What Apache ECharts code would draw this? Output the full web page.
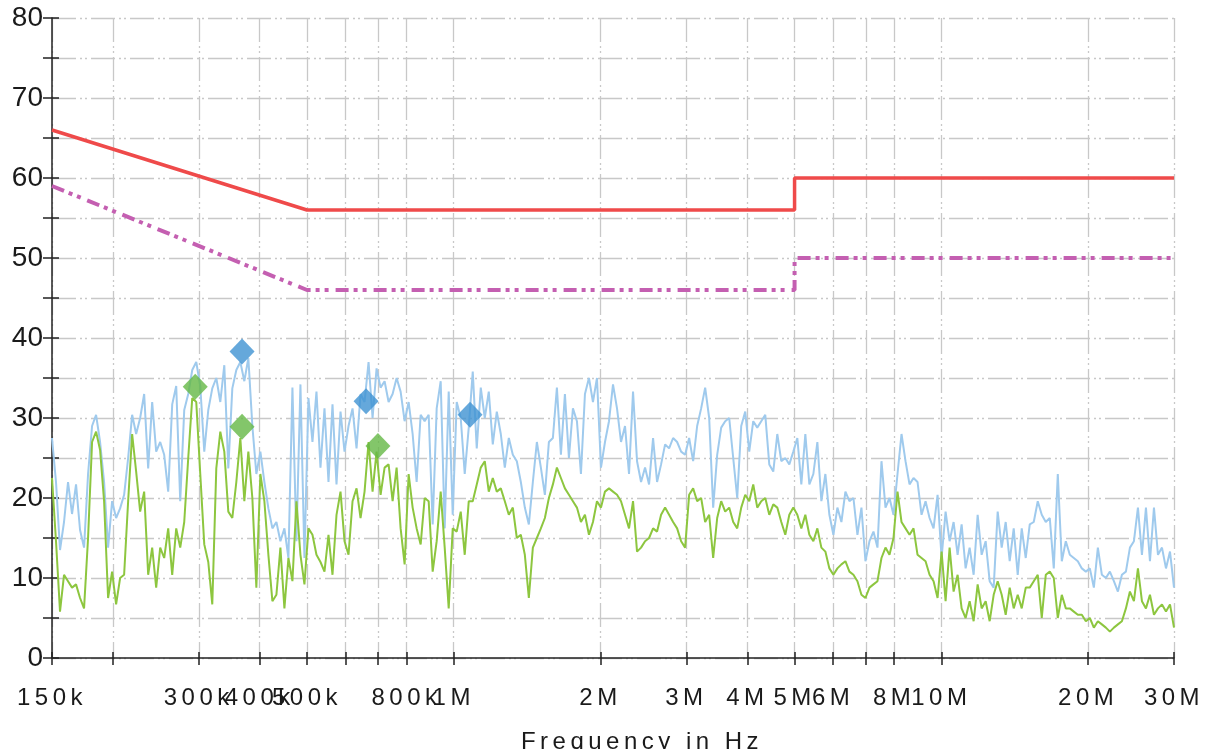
<!DOCTYPE html>
<html>
<head>
<meta charset="utf-8">
<script src="https://cdn.jsdelivr.net/npm/echarts@6/dist/echarts.min.js"></script>
<style>
  html, body { margin: 0; padding: 0; background: #fff; }
  #chart { width: 1214px; height: 749px; }
</style>
</head>
<body>
<div id="chart"></div>
<script>
// receiver sweep: 281 log-spaced points, 150 kHz .. 30 MHz
const sweepStartMHz = 0.15;
const sweepStopMHz = 30;
const sweepPoints = 281;

// peak detector trace (dBuV)
const peakTrace = [
  27.5, 22, 13.5, 17, 22, 18, 21.7, 16, 13.8, 23, 29, 30.4, 27, 22, 13.8, 19.6, 17.5, 18.7, 20.4, 25,
  30.4, 28, 30, 33, 23.7, 32, 25.8, 27, 25.4, 20.8, 31.7, 34, 19.6, 31, 33, 36, 37, 34, 25.8, 31,
  33.7, 35, 32, 36.6, 23.7, 33.7, 36,
  37, 34.6, 37.5, 29, 23, 25.8, 22, 18.7, 16.2, 17, 14.6, 16.2, 12.5, 33.8, 14.6, 34.2, 12.5, 32.5, 27, 33.3,
  23.8, 31.2, 22, 31.7, 21.7, 30.8, 25.8, 29, 31.2, 26.2, 33, 32, 37, 30, 36.2, 33.8, 34.6, 32, 33, 35,
  33.3, 29.6, 32, 28, 22, 30.4, 29.6,
  30.4, 16.7, 31.2, 34.6, 16.2, 33.3, 17.9, 32, 30, 23, 28.8, 35.8, 26.2, 33.8, 30, 33.3, 26.7, 30.8, 28, 23.8,
  27.5, 25.4, 24.6, 22, 18.8, 16.7, 22, 27, 23.8, 20.4, 27, 27.5, 33.8, 25.4, 33, 25, 31.2, 29.6, 23, 33,
  35, 32, 35, 23.8, 27, 29.6, 34.2,
  31.2, 27, 29, 23, 33.3, 24.6, 22, 23.8, 21.7, 27.5, 22, 24.2, 26.7, 26.2, 27.5, 27, 25.8, 25.4, 27.5, 24.6,
  29, 31.2, 33.8, 30, 18.8, 25.4, 28.8, 29.6, 30, 25, 20, 29, 30.8, 25.8, 29.6, 28.8, 29.6, 30.4, 24.2, 23.3,
  28, 24.6, 25, 24.2, 25.8, 27.5, 21.7,
  28, 21.7, 23, 27, 19.6, 23, 17.9, 15.4, 18.8, 17, 20.8, 19.6, 20, 15.4, 18.8, 12.1, 14.6, 15.8, 13.8, 24.6,
  18.8, 20, 17.9, 23, 28, 24.6, 21.7, 22.5, 22, 17.9, 19.6, 17.5, 16.2, 20.4, 12.5, 18.3, 14.6, 17, 12.9, 16.7,
  11.2, 13.8, 10.4, 17.9, 12.9, 14.6, 9.6,
  8.8, 18.3, 13.8, 17, 12.1, 16.2, 10.4, 16.2, 12.5, 16.7, 17, 19.6, 17.9, 17, 17.5, 11.2, 23, 12.1, 14.6, 12.9,
  12.5, 12.1, 11.2, 10.8, 11.2, 8.8, 13.8, 10.4, 10, 10.8, 9.6, 8.3, 10.4, 10.8, 13.8, 14.6, 18.8, 12.9, 18.8, 12.1,
  18.8, 12.9, 13.8, 11.2, 13.3, 8.8
];

// average detector trace (dBuV)
const avgTrace = [
  22.5, 14.6, 5.8, 10.4, 9.6, 8.8, 9.2, 7.5, 6.2, 15, 27, 28.3, 26, 19.6, 7.5, 10.8, 6.7, 10, 10.4, 19.6,
  28, 23.3, 18.3, 20.8, 10.4, 13.8, 8.8, 13.8, 12.5, 16.2, 10.4, 16.2, 13.8, 17, 25, 32.5, 32, 23, 14.2, 12,
  6.7, 23.7, 28.3, 25.8, 18.3, 17.5, 22,
  27.5, 19.6, 25.8, 20, 8.8, 23, 19.6, 12.9, 7.1, 7.9, 13.8, 6.2, 12.5, 9.6, 19.6, 12.9, 9.2, 16.2, 15.4, 12.9,
  12, 10.8, 15.4, 10.4, 17.9, 20.8, 14.6, 12.9, 19.6, 21.2, 17.5, 20.8, 27, 20.8, 25.8, 20.4, 23.8, 24.2, 19.6, 23.8,
  16.2, 11.7, 23, 18.8, 16.2, 14.2, 20,
  19.6, 10.8, 14.6, 20.8, 13.8, 6.2, 16.2, 15.8, 18.3, 12.9, 19.6, 19.6, 21.7, 23.8, 24.6, 20.8, 22.5, 20.8, 21.2, 19.6,
  17.9, 18.8, 15, 15.4, 12.9, 7.5, 13.8, 15, 16.2, 17.5, 20, 21.7, 23.8, 22.5, 21.2, 20.4, 19.6, 18.8, 17, 17.9,
  15.4, 17, 19.6, 18.8, 20.8, 21.2, 20.8,
  20.4, 19.6, 17.9, 16.2, 19.6, 13.3, 13.8, 14.6, 15, 16.2, 15.8, 17.9, 18.8, 17.9, 17, 16.2, 14.6, 13.8, 20.4, 21.2,
  19.6, 20, 17, 17.9, 12.5, 17.5, 19.6, 18.3, 18.8, 17, 16.2, 18.8, 20.4, 19.6, 21.7, 18.8, 19.6, 20, 17.9, 19.2,
  18.8, 17, 15.4, 17.9, 18.8, 17.9, 16.2,
  17.9, 15.4, 14.6, 16.2, 13.8, 13.3, 11.2, 10.4, 11.2, 11.7, 12.1, 10.8, 10.4, 9.6, 7.9, 7.5, 8.8, 9.2, 9.6, 12.5,
  13.8, 12.9, 15, 20.8, 17, 16.2, 15.4, 16.2, 12.9, 12.5, 12.1, 10.4, 9.6, 7.5, 13.3, 7.1, 13.8, 8.3, 10.4, 6.2,
  5, 7.1, 4.6, 9.2, 6.2, 7.1, 4.6,
  7.9, 9.6, 7.9, 5.4, 8.8, 6.2, 7.9, 6.2, 8.8, 8.8, 9.6, 10.4, 5, 10.4, 10.8, 10, 5, 7.9, 6.2, 6.2,
  5.8, 5.4, 5.4, 4.6, 5, 3.8, 4.6, 4.2, 3.8, 3.3, 3.8, 4.2, 4.6, 6.2, 8.3, 7.1, 11.2, 7.1, 6.2, 7.9,
  5.4, 6.2, 6.7, 5.8, 6.7, 3.8
];

// limit lines
const qpLimitFreq = [0.15, 0.5, 5, 5, 30];
const qpLimitLevel = [66, 56, 56, 60, 60];
const avLimitFreq = [0.15, 0.5, 5, 5, 30];
const avLimitLevel = [59, 46, 46, 50, 50];

// final measurement markers
const qpMarkFreq = [0.368, 0.661, 1.08];
const qpMarkLevel = [38.3, 32.1, 30.4];
const avMarkFreq = [0.295, 0.368, 0.699];
const avMarkLevel = [33.9, 28.9, 26.5];

// axis ticks (MHz)
const tickFreq = [0.15, 0.2, 0.3, 0.4, 0.5, 0.6, 0.7, 0.8, 1, 2, 3, 4, 5, 6, 7, 8, 10, 20, 30];
const labelFreq = [0.15, 0.3, 0.4, 0.5, 0.8, 1, 2, 3, 4, 5, 6, 8, 10, 20, 30];

// the frequency axis text of the original is widely spaced; canvas supports letterSpacing
const ctxProto = CanvasRenderingContext2D.prototype;
const rawFillText = ctxProto.fillText;
const rawMeasureText = ctxProto.measureText;
const spacingFor = (ctx) => (/\b24px/.test(ctx.font) ? "4.5px" : "0px");
ctxProto.fillText = function (...args) {
  this.letterSpacing = spacingFor(this);
  return rawFillText.apply(this, args);
};
ctxProto.measureText = function (...args) {
  this.letterSpacing = spacingFor(this);
  return rawMeasureText.apply(this, args);
};

const lg = Math.log10;
const sweepFreq = [];
for (let i = 0; i < sweepPoints; i++) {
  sweepFreq.push(sweepStartMHz * Math.pow(sweepStopMHz / sweepStartMHz, i / (sweepPoints - 1)));
}
const pairs = (fs, vs) => vs.map((v, i) => [lg(fs[i]), v]);

function freqLabel(v) {
  const f = Math.pow(10, v);
  if (f < 0.999) return Math.round(f * 1000) + "k";
  return Math.round(f) + "M";
}

const font = "'Liberation Sans', Arial, sans-serif";
const gridLine = { color: "#c8c8c8", width: 1.3, type: [24, 4, 2, 3, 2, 4] };
const tickLine = { color: "#222", width: 1.5 };
const xMin = lg(sweepStartMHz);
const xMax = lg(sweepStopMHz);

const chart = echarts.init(document.getElementById("chart"), null, { renderer: "canvas" });

chart.setOption({
  animation: false,
  backgroundColor: "#ffffff",
  grid: { left: 52, right: 40, top: 18, bottom: 91, containLabel: false, outerBoundsMode: "none" },
  xAxis: [
    {
      type: "value",
      min: xMin,
      max: xMax,
      name: "Frequency in Hz",
      nameLocation: "middle",
      nameGap: 70,
      nameTextStyle: { fontFamily: font, fontSize: 24, color: "#1a1a1a", padding: [0, 0, 0, 58] },
      axisLine: { show: true, onZero: false, lineStyle: tickLine },
      axisTick: { show: true, length: 7, customValues: tickFreq.map(lg), lineStyle: tickLine },
      axisLabel: {
        customValues: labelFreq.map(lg),
        formatter: freqLabel,
        margin: 26,
        fontFamily: font,
        fontSize: 24,
        color: "#1a1a1a"
      },
      splitLine: { show: true, lineStyle: gridLine }
    },
    {
      type: "value",
      min: xMin,
      max: xMax,
      position: "bottom",
      axisLine: { show: false, onZero: false },
      axisTick: { show: true, inside: true, length: 6, customValues: tickFreq.map(lg), lineStyle: tickLine },
      axisLabel: { show: false },
      splitLine: { show: false }
    }
  ],
  yAxis: [
    {
      type: "value",
      min: 0,
      max: 80,
      interval: 5,
      axisLine: { show: true, onZero: false, lineStyle: tickLine },
      axisTick: { show: true, length: 9, lineStyle: tickLine },
      axisLabel: {
        interval: 1,
        margin: 9,
        fontFamily: font,
        fontSize: 28,
        color: "#1a1a1a",
        formatter: (v) => (v % 10 === 0 ? String(v) : "")
      },
      splitLine: { show: true, lineStyle: gridLine }
    },
    {
      type: "value",
      min: 0,
      max: 80,
      interval: 5,
      position: "left",
      axisLine: { show: false, onZero: false },
      axisTick: { show: true, inside: true, length: 7, lineStyle: tickLine },
      axisLabel: { show: false },
      splitLine: { show: false }
    }
  ],
  series: [
    {
      name: "Peak",
      type: "line",
      data: pairs(sweepFreq, peakTrace),
      showSymbol: false,
      lineStyle: { color: "#9fcaed", width: 2 },
      z: 2
    },
    {
      name: "Average",
      type: "line",
      data: pairs(sweepFreq, avgTrace),
      showSymbol: false,
      lineStyle: { color: "#8dc63f", width: 2 },
      z: 3
    },
    {
      name: "QP limit",
      type: "line",
      data: pairs(qpLimitFreq, qpLimitLevel),
      showSymbol: false,
      lineStyle: { color: "#ef4a4a", width: 3.5 },
      z: 4
    },
    {
      name: "AV limit",
      type: "line",
      data: pairs(avLimitFreq, avLimitLevel),
      showSymbol: false,
      lineStyle: { color: "#c45fb1", width: 4, type: [13, 5, 4, 5, 4, 7], cap: "butt" },
      z: 4
    },
    {
      name: "QP final",
      type: "scatter",
      data: pairs(qpMarkFreq, qpMarkLevel),
      symbol: "diamond",
      symbolSize: [25, 26],
      itemStyle: { color: "#3e92d2" },
      z: 5
    },
    {
      name: "AV final",
      type: "scatter",
      data: pairs(avMarkFreq, avMarkLevel),
      symbol: "diamond",
      symbolSize: [25, 26],
      itemStyle: { color: "#64b845" },
      z: 5
    }
  ]
});
</script>
</body>
</html>
